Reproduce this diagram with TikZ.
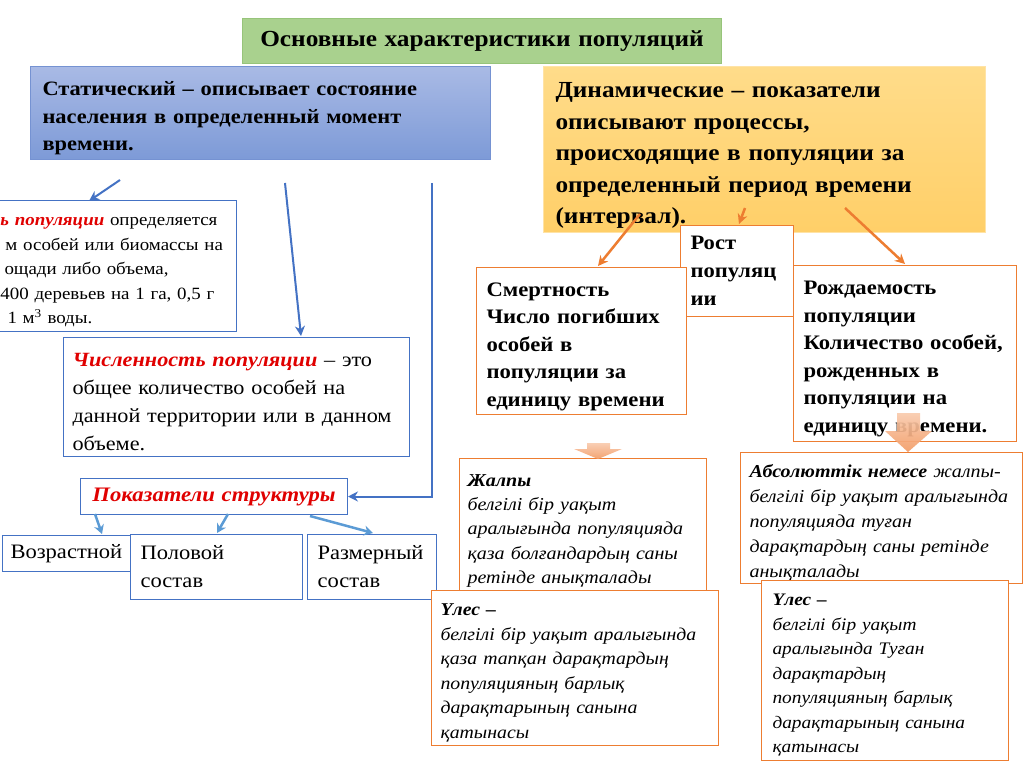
\documentclass[tikz,border=0pt]{standalone}
\usepackage{fontspec}
\setmainfont{Liberation Serif}[FakeStretch=1.1]
\usetikzlibrary{arrows.meta}

\definecolor{boxblue}{HTML}{4472C4}
\definecolor{lightblue}{HTML}{5B9BD5}
\definecolor{boxorange}{HTML}{ED7D31}
\definecolor{titlegreen}{HTML}{A9D18E}
\definecolor{titleline}{HTML}{97C47A}
\definecolor{statictop}{HTML}{A9BAE5}
\definecolor{staticbot}{HTML}{7D9AD7}
\definecolor{staticline}{HTML}{7592D2}
\definecolor{dyntop}{HTML}{FFDC8A}
\definecolor{dynbot}{HTML}{FFCF68}
\definecolor{dynline}{HTML}{FFE3A6}
\definecolor{peachtop}{HTML}{F9CBAE}
\definecolor{peachbot}{HTML}{F39C66}
\definecolor{redtext}{HTML}{E00000}

\begin{document}
\begin{tikzpicture}[x=1pt,y=-1pt,
		textbox/.style={
			anchor=north west,
			align=left,
			inner xsep=10pt,
			inner ysep=2pt,
			fill=white,
			line width=1pt
		},
		tallbox/.style={execute at begin node={\rule{0pt}{1.2em}}},
		bluebox/.style={textbox, draw=boxblue},
		orangebox/.style={textbox, draw=boxorange},
		bluearrow/.style={draw=boxblue, line width=2pt, -{Stealth[length=10pt,width=10pt]}},
		lightarrow/.style={draw=lightblue, line width=2.5pt, -{Stealth[length=9pt,width=10pt]}},
		orangearrow/.style={draw=boxorange, line width=2.5pt, -{Stealth[length=10pt,width=10pt]}},
		blockarrow/.style={top color=peachtop, bottom color=peachbot, opacity=0.92}
		]
		
		\useasboundingbox[fill=white] (0,0) rectangle (1024,767);
		
		% Title
		\node[textbox, fill=titlegreen, draw=titleline, align=center,
		minimum width=479pt, minimum height=45pt, text width=459pt,
		font=\fontsize{23}{26}\selectfont\bfseries] (title) at (242,18)
		{Основные характеристики популяций};
		
		% Static and dynamic
		\node[textbox, tallbox, top color=statictop, bottom color=staticbot, draw=staticline,
		inner xsep=12pt, minimum width=460pt, minimum height=93pt, text width=436pt,
		font=\fontsize{20.4}{27.5}\selectfont\bfseries] (static) at (30,66)
		{Статический -- описывает состояние\\населения в определенный момент\\времени.};
		
		\node[textbox, tallbox, top color=dyntop, bottom color=dynbot, draw=dynline,
		inner xsep=12pt, minimum width=442pt, minimum height=166pt, text width=418pt,
		font=\fontsize{23}{31.5}\selectfont\bfseries] (dyn) at (543,66)
		{Динамические -- показатели\\описывают процессы,\\происходящие в популяции за\\определенный период времени\\(интервал).};
		
		% Static side
		\node[bluebox, tallbox, inner xsep=5pt, minimum width=241pt, minimum height=131pt, text width=231pt,
		font=\fontsize{17.2}{24.5}\selectfont] (dens) at (-5,200)
		{\textcolor{redtext}{\bfseries\itshape ь популяции} определяется\\
			\hspace*{5pt}м особей или биомассы на\\
			\hspace*{4pt}ощади либо объема,\\
			400 деревьев на 1 га, 0,5 г\\
			\hspace*{7pt}1 м\textsuperscript{3} воды.};
		
		\node[bluebox, tallbox, inner xsep=9pt, minimum width=346pt, minimum height=119pt, text width=328pt,
		font=\fontsize{20.2}{28}\selectfont] (num) at (63,337)
		{\textcolor{redtext}{\bfseries\itshape Численность популяции} -- это\\
			общее количество особей на\\данной территории или в данном\\объеме.};
		
		\node[bluebox, align=center, minimum width=267pt, minimum height=36pt, text width=247pt,
		font=\fontsize{20.6}{24}\selectfont\bfseries\itshape, text=redtext] (struct) at (80,478)
		{Показатели структуры};
		
		\node[bluebox, inner xsep=8pt, minimum width=128pt, minimum height=36pt, text width=112pt,
		font=\fontsize{20.5}{28}\selectfont] (age) at (2,535) {Возрастной};
		
		\node[bluebox, minimum width=172pt, minimum height=65pt, text width=152pt,
		font=\fontsize{20.5}{28}\selectfont] (sex) at (130,534) {Половой\\состав};
		
		\node[bluebox, minimum width=129pt, minimum height=65pt, text width=109pt,
		font=\fontsize{20.5}{28}\selectfont] (size) at (307,534) {Размерный\\состав};
		
		% Dynamic side
		\node[orangebox, minimum width=113pt, minimum height=91pt, text width=93pt,
		font=\fontsize{20.5}{28}\selectfont\bfseries] (growth) at (680,225)
		{Рост\\популяц\\ии};
		
		\node[orangebox, tallbox, minimum width=210pt, minimum height=147pt, text width=190pt,
		font=\fontsize{20.6}{27.5}\selectfont\bfseries] (death) at (476,267)
		{Смертность\\Число погибших\\особей в\\популяции за\\единицу времени};
		
		\node[orangebox, tallbox, minimum width=223pt, minimum height=176pt, text width=203pt,
		font=\fontsize{20.6}{27.5}\selectfont\bfseries] (birth) at (793,265)
		{Рождаемость\\популяции\\Количество особей,\\рожденных в\\популяции на\\единицу времени.};
		
		\node[orangebox, tallbox, inner xsep=8pt, minimum width=247pt, minimum height=135pt, text width=231pt,
		font=\fontsize{18.2}{24.3}\selectfont\itshape] (deathall) at (459,458)
		{\textbf{Жалпы}\\белгілі бір уақыт\\аралығында популяцияда\\қаза болғандардың саны\\ретінде анықталады};
		
		\node[orangebox, tallbox, inner xsep=9pt, minimum width=287pt, minimum height=155pt, text width=269pt,
		font=\fontsize{18}{24.6}\selectfont\itshape] (deathshare) at (431,590)
		{\textbf{Үлес --}\\белгілі бір уақыт аралығында\\қаза тапқан дарақтардың\\популяцияның барлық\\дарақтарының санына\\қатынасы};
		
		\node[orangebox, tallbox, inner xsep=9pt, minimum width=282pt, minimum height=131pt, text width=264pt,
		font=\fontsize{18.2}{25}\selectfont\itshape] (birthall) at (740,452)
		{\textbf{Абсолюттік немесе} жалпы-\\белгілі бір уақыт аралығында\\популяцияда туған\\дарақтардың саны ретінде\\анықталады};
		
		\node[orangebox, tallbox, inner xsep=11pt, minimum width=247pt, minimum height=180pt, text width=225pt,
		font=\fontsize{17.6}{24.5}\selectfont\itshape] (birthshare) at (761,580)
		{\textbf{Үлес --}\\белгілі бір уақыт\\аралығында Туған\\дарақтардың\\популяцияның барлық\\дарақтарының санына\\қатынасы};
		
		% Connector ends
		\coordinate (s1) at (120,180);
		\coordinate (e1) at (89,201);
		\coordinate (s2) at (285,183);
		\coordinate (e2) at (301,336);
		\coordinate (s3) at (432,183);
		\coordinate (d1) at (640,214);
		\coordinate (f1) at (598,266);
		\coordinate (d2) at (745,208);
		\coordinate (f2) at (739,224);
		\coordinate (d3) at (845,208);
		\coordinate (f3) at (905,264);
		
		% Blue connectors
		\draw[bluearrow] (s1) -- (e1);
		\draw[bluearrow] (s2) -- (e2);
		\draw[bluearrow] (s3) |- (struct.east);
		\draw[lightarrow] (95,514) -- (102,534);
		\draw[lightarrow] (228,514) -- (217,533);
		\draw[lightarrow] (310,516) -- (373,533);
		
		% Orange connectors
		\draw[orangearrow] (d1) -- (f1);
		\draw[orangearrow] (d2) -- (f2);
		\draw[orangearrow] (d3) -- (f3);
		
		% Block arrows
		\shade[blockarrow] (587,443) -- (610,443) -- (610,449) -- (622,449) -- (598,459)
		-- (574,449) -- (587,449) -- cycle;
		\shade[blockarrow] (897,413) -- (920,413) -- (920,431) -- (932,431) -- (908,452)
		-- (885,431) -- (897,431) -- cycle;
		
	\end{tikzpicture}
\end{document}
